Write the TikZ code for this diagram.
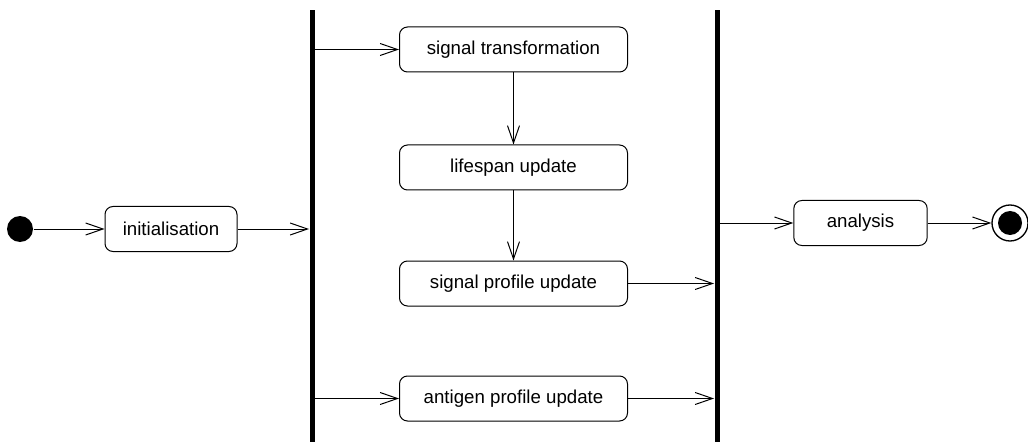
\documentclass[tikz,border=0pt]{standalone}
\usepackage{fontspec}
\setmainfont{Liberation Sans}
\usetikzlibrary{arrows.meta,positioning}

\begin{document}
\begin{tikzpicture}[x=0.75pt, y=-0.75pt, line width=0.75pt,
  activity/.style={draw, rounded corners=6pt, minimum height=33.75pt, inner sep=0pt, font=\fontsize{14}{16}\selectfont},
  bar/.style={fill=black, inner sep=0pt, minimum width=3.75pt, minimum height=325.5pt},
  flow/.style={-{Straight Barb[length=13pt, width=9pt]}}]
\useasboundingbox (0,0) rectangle (1028,442);

\node[circle, fill=black, minimum size=19.5pt, inner sep=0pt] (start) at (20,229) {};
\node[activity, minimum width=99pt] (init) at (171,229) {initialisation};
\node[bar] (fork) at (312,227) {};
\node[activity, minimum width=171pt] (trans) at (513.5,49.5) {signal transformation};
\node[activity, minimum width=171pt] (life) at (513.5,167.5) {lifespan update};
\node[activity, minimum width=171pt] (sigprof) at (513.5,283.5) {signal profile update};
\node[activity, minimum width=171pt] (antprof) at (513.5,398.5) {antigen profile update};
\node[bar] (join) at (717,227) {};
\node[activity, minimum width=100pt] (analysis) at (860.5,223) {analysis};
\node[circle, draw, line width=1pt, minimum size=27pt, inner sep=0pt,
  path picture={\fill (path picture bounding box.center) circle (9pt);}] (final) at (1010,223) {};

\draw[flow] (start) -- (init);
\draw[flow] (init) -- (init -| fork.west);
\draw[flow] (fork.east |- trans) -- (trans);
\draw[flow] (trans) -- (life);
\draw[flow] (life) -- (sigprof);
\draw[flow] (fork.east |- antprof) -- (antprof);
\draw[flow] (sigprof) -- (sigprof -| join.west);
\draw[flow] (antprof) -- (antprof -| join.west);
\draw[flow] (join.east |- analysis) -- (analysis);
\draw[flow] (analysis) -- (final);
\end{tikzpicture}
\end{document}
